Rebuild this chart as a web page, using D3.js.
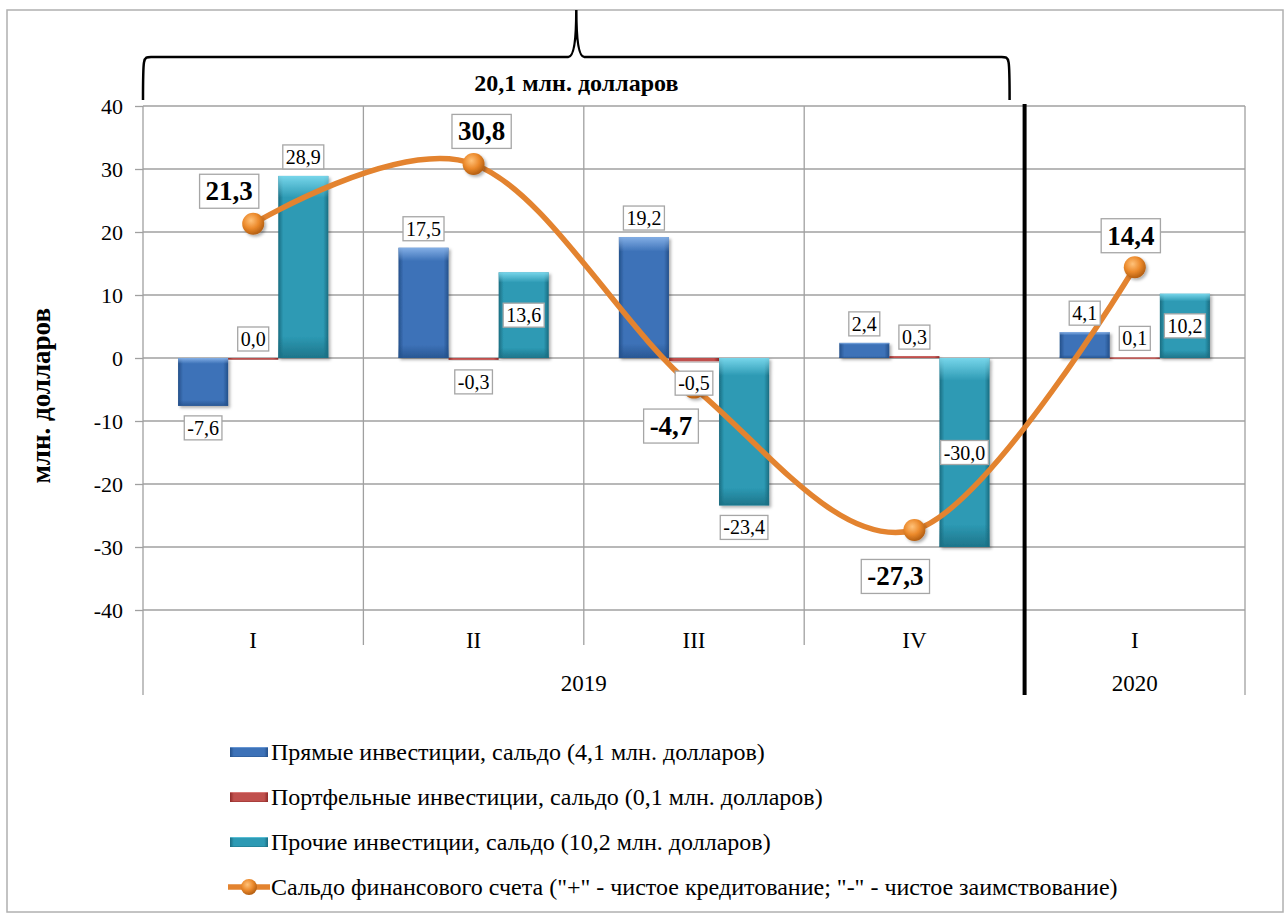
<!DOCTYPE html>
<html>
<head>
<meta charset="utf-8">
<script src="https://cdn.jsdelivr.net/npm/d3@7"></script>
<style>
  body { margin: 0; background: #fff; }
  svg text { font-family: "Liberation Serif", "Times New Roman", serif; }
</style>
</head>
<body>
<svg id="chart"></svg>
<script>
// Data
const quarters = ["I", "II", "III", "IV", "I"];
const years = [
  {label: "2019", first: 0, last: 3},
  {label: "2020", first: 4, last: 4}
];
const seriesKeys = ["direct", "portfolio", "other"];
const seriesNames = [
  "Прямые инвестиции, сальдо (4,1  млн. долларов)",
  "Портфельные инвестиции, сальдо (0,1 млн. долларов)",
  "Прочие инвестиции, сальдо (10,2 млн. долларов)"
];
const lineName = "Сальдо финансового счета (\"+\"  - чистое кредитование; \"-\" - чистое заимствование)";
const direct = [-7.6, 17.5, 19.2, 2.4, 4.1];
const portfolio = [0.0, -0.3, -0.5, 0.3, 0.1];
const other = [28.9, 13.6, -23.4, -30.0, 10.2];
const balance = [21.3, 30.8, -4.7, -27.3, 14.4];
const yTicks = [-40, -30, -20, -10, 0, 10, 20, 30, 40];
const braceText = "20,1 млн. долларов";
const yTitle = "млн. долларов";

// Label placement (not data): where each bar label sits, and offsets for the line labels
const otherInside = [false, true, false, true, true];
const lineLabelOffset = [[-24, -33], [8, -33], [-23, 38], [-19, 46], [-4, -32]];

const fmt = v => d3.format(".1f")(v).replace(".", ",").replace("−", "-");

const W = 1287, H = 915;
const margin = {left: 143, right: 42, top: 106, bottom: 305};
const plotW = W - margin.left - margin.right;
const plotH = H - margin.top - margin.bottom;

const svg = d3.select("#chart").attr("width", W).attr("height", H)
  .attr("font-family", "Liberation Serif, Times New Roman, serif");

// gradients
const defs = svg.append("defs");
function barGrad(id, dark, mid, light) {
  const g = defs.append("linearGradient").attr("id", id).attr("x1", 0).attr("x2", 1).attr("y1", 0).attr("y2", 0);
  g.append("stop").attr("offset", "0%").attr("stop-color", dark);
  g.append("stop").attr("offset", "10%").attr("stop-color", mid);
  g.append("stop").attr("offset", "90%").attr("stop-color", mid);
  g.append("stop").attr("offset", "100%").attr("stop-color", dark);
  const v = defs.append("linearGradient").attr("id", id + "-v").attr("x1", 0).attr("x2", 0).attr("y1", 0).attr("y2", 1);
  v.append("stop").attr("offset", "0%").attr("stop-color", light).attr("stop-opacity", 0.9);
  v.append("stop").attr("offset", "12%").attr("stop-color", light).attr("stop-opacity", 0.0);
  v.append("stop").attr("offset", "88%").attr("stop-color", dark).attr("stop-opacity", 0.0);
  v.append("stop").attr("offset", "100%").attr("stop-color", dark).attr("stop-opacity", 0.8);
}
barGrad("g-direct", "#24508a", "#3d72b8", "#8bb5ea");
barGrad("g-portfolio", "#8e2a28", "#c0504d", "#f0a09e");
barGrad("g-other", "#1a6c80", "#2d9ab4", "#7fdcf0");
const rg = defs.append("radialGradient").attr("id", "g-marker").attr("cx", "40%").attr("cy", "35%").attr("r", "65%");
rg.append("stop").attr("offset", "0%").attr("stop-color", "#ffc27a");
rg.append("stop").attr("offset", "55%").attr("stop-color", "#ec8a2c");
rg.append("stop").attr("offset", "100%").attr("stop-color", "#b45f12");
const sh = defs.append("filter").attr("id", "shadow").attr("x", "-20%").attr("y", "-20%").attr("width", "150%").attr("height", "150%");
sh.append("feDropShadow").attr("dx", 2).attr("dy", 2).attr("stdDeviation", 1.5).attr("flood-color", "#000").attr("flood-opacity", 0.3);

// outer frame
svg.append("rect").attr("x", 7).attr("y", 10).attr("width", 1276).attr("height", 902)
  .attr("fill", "none").attr("stroke", "#b0b0b0").attr("stroke-width", 1.5);

// scales
const x = d3.scaleBand().domain(d3.range(quarters.length)).range([margin.left, margin.left + plotW]);
const xSub = d3.scaleBand().domain(seriesKeys).range([0, x.bandwidth()]).paddingInner(0).paddingOuter(0.7);
const y = d3.scaleLinear().domain([-40, 40]).range([margin.top + plotH, margin.top]);
const colorId = {direct: "g-direct", portfolio: "g-portfolio", other: "g-other"};
const values = {direct, portfolio, other};

// gridlines + y axis
const yAxis = d3.axisLeft(y).tickValues(yTicks).tickSize(8).tickFormat(d => d);
const yG = svg.append("g").attr("transform", `translate(${margin.left},0)`).call(yAxis);
yG.attr("font-family", null);
yG.select(".domain").remove();
yG.selectAll(".tick line").attr("stroke", "#a0a0a0").attr("stroke-width", 1.3);
yG.selectAll(".tick text").attr("font-size", 22).attr("fill", "#000").attr("x", -20).attr("dy", "0.35em");
svg.append("g").selectAll("line").data(yTicks).join("line")
  .attr("x1", margin.left).attr("x2", margin.left + plotW)
  .attr("y1", d => y(d)).attr("y2", d => y(d))
  .attr("stroke", "#a0a0a0").attr("stroke-width", 1.3);

// vertical separators
const bottomY = y(-40);
const seps = d3.range(quarters.length + 1).map(i => i < quarters.length ? x(i) : x(i - 1) + x.bandwidth());
svg.append("g").selectAll("line").data(seps).join("line")
  .attr("x1", d => d).attr("x2", d => d)
  .attr("y1", margin.top)
  .attr("y2", (d, i) => (i === 0 || i === seps.length - 1) ? bottomY + 85 : bottomY + 35)
  .attr("stroke", "#a0a0a0").attr("stroke-width", 1.3);

// category labels
svg.append("g").selectAll("text").data(quarters).join("text")
  .attr("x", (d, i) => x(i) + x.bandwidth() / 2).attr("y", bottomY + 38)
  .attr("text-anchor", "middle").attr("font-size", 23).text(d => d);
svg.append("g").selectAll("text").data(years).join("text")
  .attr("x", d => (x(d.first) + x(d.last) + x.bandwidth()) / 2).attr("y", bottomY + 81)
  .attr("text-anchor", "middle").attr("font-size", 23).text(d => d.label);

// bars
const barData = [];
quarters.forEach((q, i) => seriesKeys.forEach(k => barData.push({i, key: k, value: values[k][i]})));
const bars = svg.append("g").selectAll("g").data(barData).join("g").attr("filter", "url(#shadow)");
bars.each(function(d) {
  const g = d3.select(this);
  const bx = x(d.i) + xSub(d.key), bw = xSub.bandwidth();
  const top = Math.min(y(d.value), y(0)), h = Math.max(Math.abs(y(d.value) - y(0)), 1.5);
  g.append("rect").attr("x", bx).attr("y", top).attr("width", bw).attr("height", h).attr("fill", `url(#${colorId[d.key]})`);
  g.append("rect").attr("x", bx).attr("y", top).attr("width", bw).attr("height", h).attr("fill", `url(#${colorId[d.key]}-v)`);
});

// black separator between years
svg.append("line").attr("x1", x(4)).attr("x2", x(4)).attr("y1", margin.top - 2).attr("y2", bottomY + 85)
  .attr("stroke", "#000").attr("stroke-width", 4);

// balance line
const pts = balance.map((v, i) => [x(i) + x.bandwidth() / 2, y(v)]);
svg.append("path").datum(pts)
  .attr("d", d3.line().curve(d3.curveCardinal.tension(0)))
  .attr("fill", "none").attr("stroke", "#e3832f").attr("stroke-width", 5.5);
svg.append("g").selectAll("circle").data(pts).join("circle")
  .attr("cx", d => d[0]).attr("cy", d => d[1]).attr("r", 11)
  .attr("fill", "url(#g-marker)").attr("filter", "url(#shadow)");

// label helper: boxed text centred at (cx, cy)
function boxLabel(parent, cx, cy, text, size, bold) {
  const g = parent.append("g");
  const t = g.append("text").attr("x", cx).attr("y", cy).attr("dy", "0.35em")
    .attr("text-anchor", "middle").attr("font-size", size)
    .attr("font-weight", bold ? "bold" : "normal").text(text);
  const bb = t.node().getBBox();
  const px = bold ? 6 : 3, py = bold ? 2 : 1;
  g.insert("rect", "text").attr("x", bb.x - px).attr("y", bb.y - py)
    .attr("width", bb.width + 2 * px).attr("height", bb.height + 2 * py)
    .attr("fill", "#fff").attr("stroke", "#a6a6a6").attr("stroke-width", 1.3);
}

// line labels
const lblG = svg.append("g");
balance.forEach((v, i) => {
  boxLabel(lblG, pts[i][0] + lineLabelOffset[i][0], pts[i][1] + lineLabelOffset[i][1], fmt(v), 27, true);
});

// bar labels
barData.forEach(d => {
  const cx = x(d.i) + xSub(d.key) + xSub.bandwidth() / 2;
  let cy;
  if (d.key === "other" && otherInside[d.i]) cy = (y(d.value) + y(0)) / 2;
  else if (d.value >= 0) cy = y(d.value) - 19;
  else cy = y(d.value) + 22;
  boxLabel(lblG, cx, cy, fmt(d.value), 20, false);
});

// y title
svg.append("text").attr("transform", `translate(50,${y(-6)}) rotate(-90)`)
  .attr("text-anchor", "middle").attr("font-size", 27).attr("font-weight", "bold").text(yTitle);

// brace over 2019
const bx0 = x(0), bx1 = x(3) + x.bandwidth() - 15, bmid = (bx0 + bx1) / 2;
const by = 57, bBot = 100;
svg.append("path")
  .attr("d", `M${bx0},${bBot} C${bx0},${by} ${bx0},${by} ${bx0 + 8},${by} L${bmid - 8},${by} C${bmid - 2},${by} ${bmid},${by - 20} ${bmid},${by - 47} C${bmid},${by - 20} ${bmid + 2},${by} ${bmid + 8},${by} L${bx1 - 8},${by} C${bx1},${by} ${bx1},${by} ${bx1},${bBot}`)
  .attr("fill", "none").attr("stroke", "#000").attr("stroke-width", 2.5);
svg.append("text").attr("x", bmid).attr("y", 91).attr("text-anchor", "middle")
  .attr("font-size", 24).attr("font-weight", "bold").text(braceText);

// legend
const legend = svg.append("g").attr("transform", "translate(230,752)");
seriesKeys.forEach((k, i) => {
  const row = legend.append("g").attr("transform", `translate(0,${i * 45})`);
  row.append("rect").attr("x", 0).attr("y", -5).attr("width", 38).attr("height", 10).attr("fill", `url(#${colorId[k]})`);
  row.append("rect").attr("x", 0).attr("y", -5).attr("width", 38).attr("height", 10).attr("fill", `url(#${colorId[k]}-v)`);
  row.append("text").attr("x", 41).attr("y", 0).attr("dy", "0.35em").attr("font-size", 24).text(seriesNames[i]);
});
const lrow = legend.append("g").attr("transform", "translate(0,135)");
lrow.append("line").attr("x1", -2).attr("x2", 40).attr("y1", 0).attr("y2", 0).attr("stroke", "#e3832f").attr("stroke-width", 5.5);
lrow.append("circle").attr("cx", 19).attr("cy", 0).attr("r", 8).attr("fill", "url(#g-marker)");
lrow.append("text").attr("x", 41).attr("y", 0).attr("dy", "0.35em").attr("font-size", 24).text(lineName);
</script>
</body>
</html>
